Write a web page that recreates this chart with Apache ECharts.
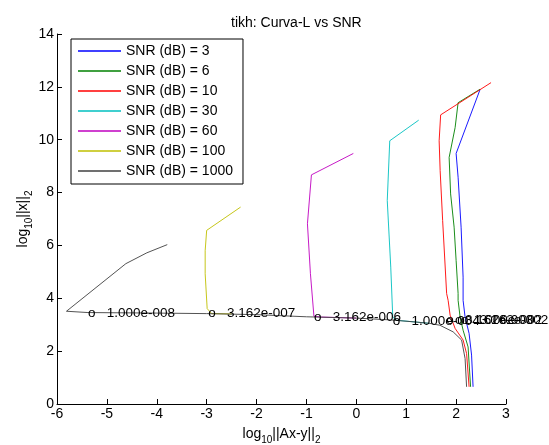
<!DOCTYPE html>
<html>
<head>
<meta charset="utf-8">
<script src="https://cdn.jsdelivr.net/npm/echarts@6/dist/echarts.min.js"></script>
<style>
html,body{margin:0;padding:0;background:#fff;}
#chart{width:549px;height:445px;}
</style>
</head>
<body>
<div id="chart"></div>
<script>
// ---- data ----
const seriesNames = ['SNR (dB) = 3', 'SNR (dB) = 6', 'SNR (dB) = 10', 'SNR (dB) = 30', 'SNR (dB) = 60', 'SNR (dB) = 100', 'SNR (dB) = 1000'];
const seriesColors = ['#0000ff', '#008000', '#ff0000', '#00bfbf', '#bf00bf', '#bfbf00', '#404040'];

const curveSNR3 = [[2.48, 11.90], [2.00, 9.48], [2.04, 8.58], [2.10, 6.69], [2.14, 4.80], [2.14, 3.92], [2.18, 3.29], [2.26, 2.67], [2.31, 1.85], [2.34, 0.65]];
const curveSNR6 = [[2.48, 11.91], [2.04, 11.40], [1.98, 10.46], [1.86, 9.33], [1.89, 7.95], [1.96, 6.69], [2.00, 5.43], [2.04, 4.18], [2.04, 3.92], [2.08, 3.29], [2.14, 2.79], [2.24, 2.16], [2.29, 0.65]];
const curveSNR10 = [[2.70, 12.16], [1.69, 10.94], [1.66, 9.96], [1.68, 8.83], [1.73, 6.94], [1.81, 4.18], [1.84, 3.92], [1.88, 3.36], [1.98, 2.86], [2.14, 2.42], [2.21, 1.91], [2.26, 0.65]];
const curveSNR30 = [[1.25, 10.74], [0.67, 9.96], [0.62, 7.70], [0.69, 5.18], [0.73, 3.29], [0.80, 3.17], [1.20, 3.10], [1.47, 3.05]];
const curveSNR60 = [[-0.06, 9.48], [-0.90, 8.67], [-0.98, 6.82], [-0.92, 4.93], [-0.85, 3.32], [-0.70, 3.29], [0.00, 3.25]];
const curveSNR100 = [[-2.32, 7.45], [-3.00, 6.57], [-3.03, 5.80], [-3.03, 4.93], [-2.99, 3.61], [-2.90, 3.42], [-2.50, 3.41]];
const curveSNR1000 = [[-3.79, 6.03], [-4.20, 5.72], [-4.62, 5.31], [-5.81, 3.51], [-5.38, 3.46], [-4.00, 3.44], [-3.00, 3.42], [-2.00, 3.38], [-1.00, 3.30], [0.00, 3.25], [0.70, 3.18], [1.20, 3.10], [1.47, 3.05], [1.675, 2.98], [1.94, 2.73], [2.11, 2.42], [2.18, 1.72], [2.21, 0.65]];

const lambdaText = ['1.000e-008', '3.162e-007', '3.162e-006', '1.000e-004', '3.162e-003', '1.000e-002', '3.162e-002'];
const lambdaX = [-5.38, -2.97, -0.85, 0.73, 1.80, 1.98, 2.10];
const lambdaY = [3.45, 3.42, 3.29, 3.14, 3.15, 3.15, 3.15];

const xTicks = { min: -6, max: 3, interval: 1 };
const yTicks = { min: 0, max: 14, interval: 2 };

// ---- build chart ----
const curves = [curveSNR3, curveSNR6, curveSNR10, curveSNR30, curveSNR60, curveSNR100, curveSNR1000];
const FONT = 'Liberation Sans, Arial, sans-serif';

const lineSeries = curves.map((c, i) => ({
  name: seriesNames[i],
  type: 'line',
  data: c,
  showSymbol: false,
  symbol: 'none',
  smooth: false,
  lineStyle: { color: seriesColors[i], width: 0.9 },
  itemStyle: { color: seriesColors[i] },
  emphasis: { disabled: true },
  animation: false
}));

const labelData = lambdaText.map((t, i) => [lambdaX[i], lambdaY[i], t]);

const labelSeries = {
  name: 'lambda',
  type: 'scatter',
  data: labelData,
  symbolSize: 0,
  silent: true,
  animation: false,
  z: 5,
  itemStyle: { color: '#000', opacity: 1 },
  label: {
    show: true,
    position: 'right',
    distance: 0,
    formatter: p => 'o   ' + p.data[2],
    color: '#000',
    opacity: 1,
    textBorderWidth: 0,
    fontFamily: FONT,
    fontSize: 13.5
  },
  labelLayout: { hideOverlap: false }
};

const richName = {
  n: { fontFamily: FONT, fontSize: 14, color: '#000', lineHeight: 16, verticalAlign: 'top' },
  s: { fontFamily: FONT, fontSize: 10, color: '#000', lineHeight: 10, padding: [8, 0, 0, 0], verticalAlign: 'top' }
};

const chart = echarts.init(document.getElementById('chart'), null, { renderer: 'canvas' });
chart.setOption({
  backgroundColor: '#fff',
  animation: false,
  title: {
    text: 'tikh: Curva-L vs SNR',
    left: 226,
    top: 11,
    textStyle: { fontFamily: FONT, fontSize: 14, fontWeight: 'normal', color: '#000' }
  },
  grid: { left: 57, right: 43, top: 34, bottom: 41, containLabel: false, outerBoundsMode: 'none' },
  legend: {
    data: seriesNames,
    orient: 'vertical',
    left: 71,
    top: 39,
    backgroundColor: '#fff',
    borderColor: '#000',
    borderWidth: 1,
    padding: [2, 10, 3, 7],
    itemGap: 0,
    itemWidth: 43,
    itemHeight: 1.5,
    icon: 'rect',
    selectedMode: false,
    textStyle: { fontFamily: FONT, fontSize: 14, color: '#000', lineHeight: 20 }
  },
  xAxis: {
    type: 'value',
    min: xTicks.min, max: xTicks.max, interval: xTicks.interval,
    splitLine: { show: false },
    axisLine: { onZero: false, lineStyle: { color: '#000', width: 1 } },
    axisTick: { inside: true, length: 5, lineStyle: { color: '#000' } },
    axisLabel: { margin: 3, color: '#000', fontFamily: FONT, fontSize: 14 },
    name: '{n|log}{s|10}{n|||Ax-y||}{s|2}',
    nameLocation: 'middle',
    nameMoveOverlap: false,
    nameGap: 23,
    nameTextStyle: { rich: richName }
  },
  yAxis: {
    type: 'value',
    min: yTicks.min, max: yTicks.max, interval: yTicks.interval,
    splitLine: { show: false },
    axisLine: { onZero: false, lineStyle: { color: '#000', width: 1 } },
    axisTick: { inside: true, length: 5, lineStyle: { color: '#000' } },
    axisLabel: { margin: 3, color: '#000', fontFamily: FONT, fontSize: 14 },
    name: '{n|log}{s|10}{n|||x||}{s|2}',
    nameLocation: 'middle',
    nameRotate: 90,
    nameMoveOverlap: false,
    nameGap: 25,
    nameTextStyle: { rich: richName }
  },
  series: lineSeries.concat([labelSeries])
});
</script>
</body>
</html>
